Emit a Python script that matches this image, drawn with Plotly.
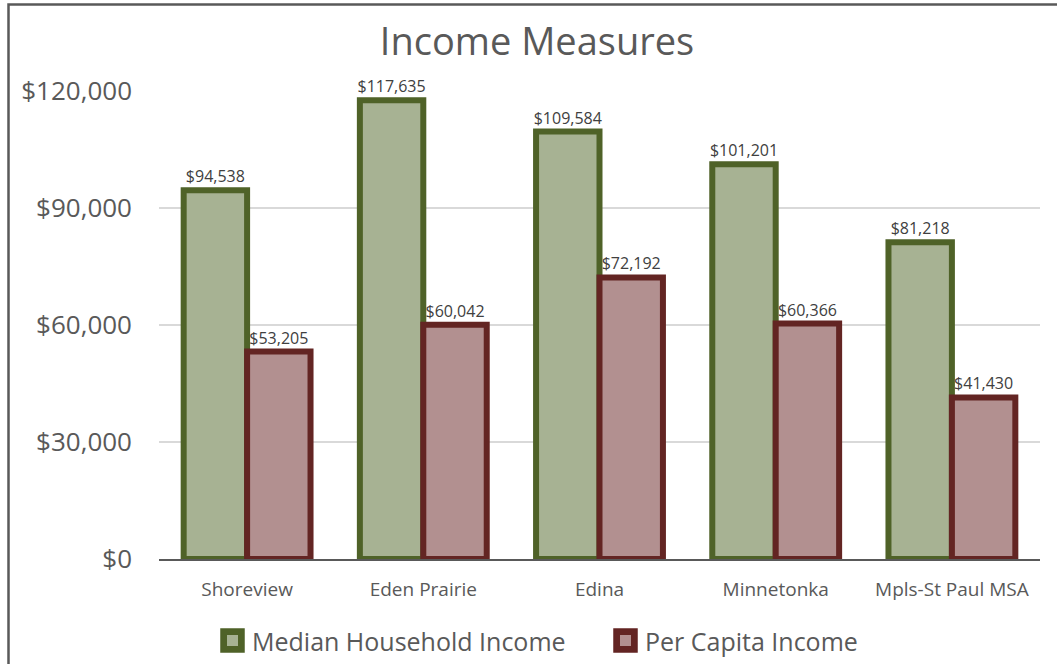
import plotly.graph_objects as go

# Income comparison by community
places = ["Shoreview", "Eden Prairie", "Edina", "Minnetonka", "Mpls-St Paul MSA"]
median_household_income = [94538, 117635, 109584, 101201, 81218]
per_capita_income = [53205, 60042, 72192, 60366, 41430]
y_ticks = [0, 30000, 60000, 90000, 120000]
series_names = ["Median Household Income", "Per Capita Income"]

FONT = "Open Sans"
W, H = 1057, 664
L, R, T, B = 159, 17, 91, 105
pw, ph = W - L - R, H - T - B

GREEN_FILL, GREEN_LINE = "#A7B293", "#4F6228"
RED_FILL, RED_LINE = "#B29090", "#632523"


def px_x(px):
    return (px - L) / pw


def px_y(py):
    return (H - B - py) / ph


fig = go.Figure()
for name, values, fill, edge in [
    (series_names[0], median_household_income, GREEN_FILL, GREEN_LINE),
    (series_names[1], per_capita_income, RED_FILL, RED_LINE),
]:
    fig.add_trace(go.Bar(
        name=name,
        x=places, y=values,
        marker=dict(color=fill, line=dict(color=edge, width=6)),
        text=[f"${v:,}" for v in values],
        textposition="outside",
        textfont=dict(family=FONT, size=16, color="#404040"),
        constraintext="none",
        cliponaxis=False,
    ))

# outer chart frame
fig.add_shape(
    type="rect", xref="paper", yref="paper",
    x0=px_x(8.5), x1=px_x(W + 10),
    y0=px_y(H + 10), y1=px_y(4.5),
    line=dict(color="#595959", width=2.5), fillcolor="rgba(0,0,0,0)",
    layer="below",
)

# legend: swatch + label for each series
legend_items = [
    (series_names[0], 232.5, 250, GREEN_FILL, GREEN_LINE),
    (series_names[1], 625.5, 643, RED_FILL, RED_LINE),
]
ly = 640.5
for name, cx, tx, fill, edge in legend_items:
    fig.add_shape(
        type="rect", xref="paper", yref="paper",
        x0=px_x(cx - 11.5), x1=px_x(cx + 11.5),
        y0=px_y(ly + 11.5), y1=px_y(ly - 11.5),
        line=dict(color=edge, width=1.5), fillcolor=edge,
    )
    fig.add_shape(
        type="rect", xref="paper", yref="paper",
        x0=px_x(cx - 5.5), x1=px_x(cx + 5.5),
        y0=px_y(ly + 5.5), y1=px_y(ly - 5.5),
        line=dict(width=0), fillcolor=fill,
    )
    fig.add_annotation(
        xref="paper", yref="paper", x=px_x(tx), y=px_y(ly),
        xanchor="left", yanchor="middle", showarrow=False,
        text=name, font=dict(family=FONT, size=25, color="#595959"),
    )

fig.update_layout(
    width=W, height=H,
    margin=dict(l=L, r=R, t=T, b=B),
    paper_bgcolor="white", plot_bgcolor="white",
    barmode="group", bargap=0.28, bargroupgap=0,
    font=dict(family=FONT, color="#595959"),
    showlegend=False,
    title=dict(
        text="Income Measures",
        font=dict(family=FONT, size=38, color="#595959"),
        xref="container", x=537 / W, xanchor="center",
        yref="container", y=1 - 42 / H, yanchor="middle",
    ),
    xaxis=dict(
        showline=True, linecolor="#595959", linewidth=2,
        tickfont=dict(family=FONT, size=19, color="#595959"),
        ticklabelstandoff=12,
        showgrid=False,
    ),
    yaxis=dict(
        range=[0, 120000], tickvals=y_ticks,
        ticktext=[f"${v:,}" for v in y_ticks],
        showgrid=True, gridcolor="#D9D9D9", gridwidth=1.5,
        zeroline=False, showline=False,
        tickfont=dict(family=FONT, size=26, color="#595959"),
        ticklabelstandoff=26,
    ),
)

fig.write_html("out.html")
